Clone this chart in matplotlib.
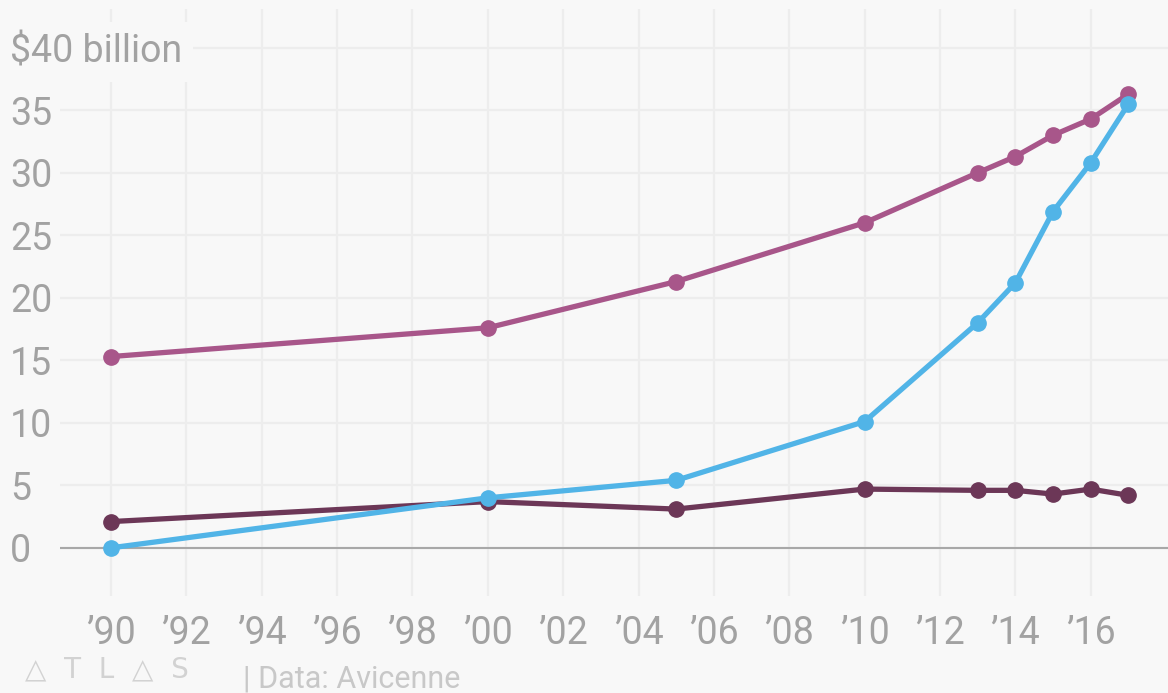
import matplotlib.pyplot as plt

# Values ($ billion)
years = [1990, 2000, 2005, 2010, 2013, 2014, 2015, 2016, 2017]
pink_vals = [15.3, 17.6, 21.3, 26.0, 30.0, 31.3, 33.0, 34.3, 36.3]
blue_vals = [0.0, 4.0, 5.4, 10.1, 18.0, 21.2, 26.9, 30.8, 35.5]
dark_vals = [2.1, 3.7, 3.1, 4.7, 4.6, 4.6, 4.3, 4.7, 4.2]

x_ticks = list(range(1990, 2017, 2))
x_labels = ["\u2019" + str(y)[2:] for y in x_ticks]
y_ticks = [0, 5, 10, 15, 20, 25, 30, 35, 40]
y_labels = [str(v) for v in y_ticks[:-1]] + ["$40 billion"]

bg = "#f8f8f8"
grid_col = "#ededed"
text_col = "#a2a2a2"

plt.rcParams['font.family'] = ['Roboto', 'DejaVu Sans']

fig = plt.figure(figsize=(11.68, 6.93), dpi=100, facecolor=bg)
ax = fig.add_axes([0.0514, 0.140, 0.9486, 0.847], facecolor=bg)

ax.plot(years, pink_vals, color="#a8568a", lw=3.8, marker="o", ms=11, zorder=3)
ax.plot(years, dark_vals, color="#6c3757", lw=3.8, marker="o", ms=11, zorder=3)
ax.plot(years, blue_vals, color="#51b4e7", lw=3.8, marker="o", ms=11, zorder=4)

ax.set_xlim(1988.65, 2018.05)
ax.set_ylim(-3.85, 43.1)

ax.set_xticks(x_ticks)
ax.set_xticklabels(x_labels)
ax.set_yticks(y_ticks)
ax.set_yticklabels(y_labels)

ax.set_axisbelow(True)
ax.grid(True, color=grid_col, lw=1.6)
ax.axhline(0, color="#a8a8a8", lw=1.5, zorder=1)

for s in ax.spines.values():
    s.set_visible(False)

ax.tick_params(axis='both', length=0, labelsize=27, labelcolor=text_col)
ax.tick_params(axis='x', pad=14)
ax.tick_params(axis='y', pad=36)
for lbl in ax.get_yticklabels():
    lbl.set_horizontalalignment('left')

# background patch behind the top label so gridlines stop around it
top_lbl = ax.get_yticklabels()[-1]
top_lbl.set_bbox(dict(facecolor=bg, edgecolor='none', pad=8))

# footer
fig.text(0.021, 0.022, "\u25b3  T  L  \u25b3  S", fontsize=20, color="#d2d2d2",
         family=['DejaVu Sans'])
fig.text(0.208, 0.008, "| Data: Avicenne", fontsize=22, color="#c8c8c8")

fig.savefig("out.png", dpi=100, facecolor=bg)
